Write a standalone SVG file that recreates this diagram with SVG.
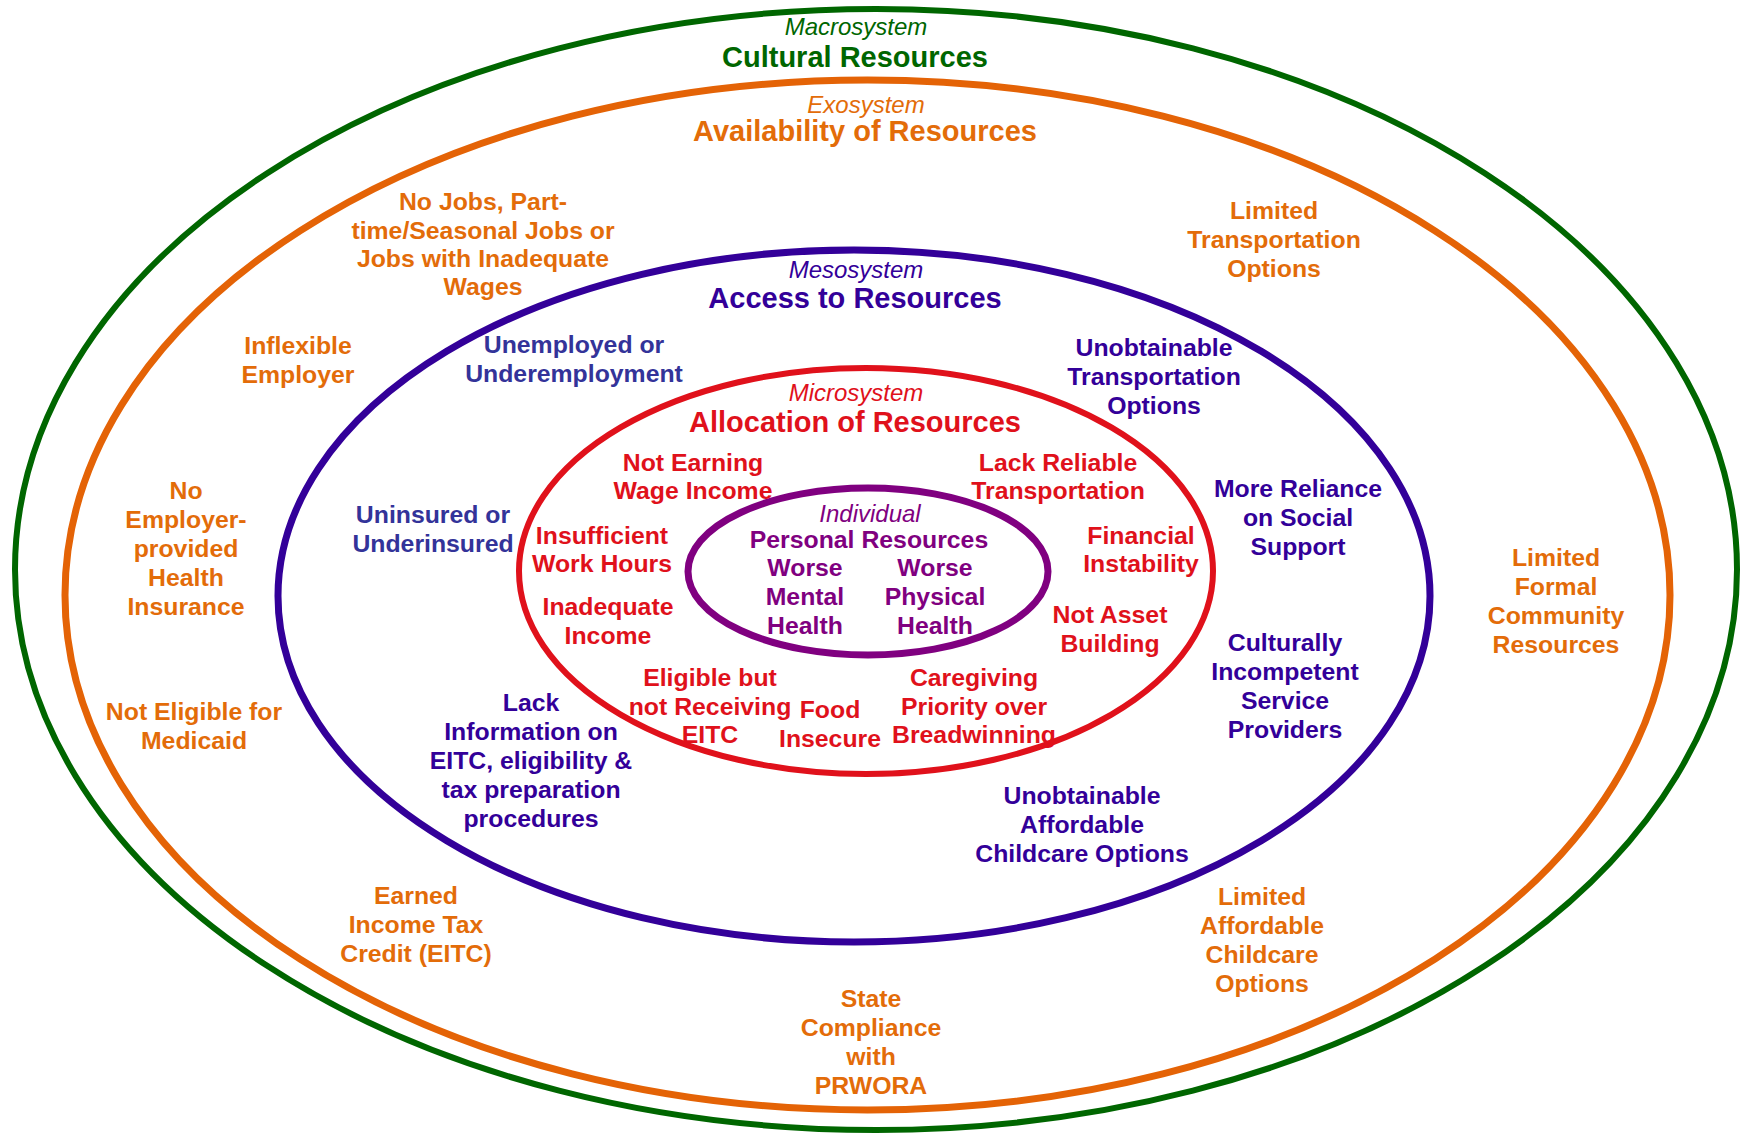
<svg xmlns="http://www.w3.org/2000/svg" width="1745" height="1135" viewBox="0 0 1745 1135">
<style>
text{font-family:"Liberation Sans",Arial,sans-serif;text-anchor:middle}
.b{font-weight:bold;font-size:24.8px}
.h{font-weight:bold;font-size:29px}
.i{font-style:italic;font-size:24px}
.ring{fill:none}
.g{fill:#006600}.gs{stroke:#006600;stroke-width:6}
.o{fill:#E36C09}.os{stroke:#E46306;stroke-width:7}
.u{fill:#330099}.us{stroke:#330099;stroke-width:7}
.u2{fill:#333399}
.r{fill:#E0111B}.rs{stroke:#E0111B;stroke-width:6}
.p{fill:#800080}.ps{stroke:#800080;stroke-width:7}
</style>
<rect width="1745" height="1135" fill="#ffffff"/>
<g transform="translate(0,2)">
<g id="macrosystem">
<ellipse class="ring gs" cx="876" cy="567.5" rx="861" ry="560.5"/>
<text class="i g" x="856" y="33">Macrosystem</text>
<text class="h g" x="855" y="65">Cultural Resources</text>
</g>
<g id="exosystem">
<ellipse class="ring os" cx="867.5" cy="593" rx="802.5" ry="515"/>
<text class="i o" x="866" y="111">Exosystem</text>
<text class="h o" x="865" y="139">Availability of Resources</text>
</g>
<g id="mesosystem">
<ellipse class="ring us" cx="854" cy="594" rx="576" ry="346"/>
<text class="i u" x="856" y="276">Mesosystem</text>
<text class="h u" x="855" y="306">Access to Resources</text>
</g>
<g id="microsystem">
<ellipse class="ring rs" cx="866" cy="569" rx="347" ry="203"/>
<text class="i r" x="856" y="399">Microsystem</text>
<text class="h r" x="855" y="430">Allocation of Resources</text>
</g>
<g id="individual">
<ellipse class="ring ps" cx="868" cy="569.5" rx="180" ry="83.5"/>
<text class="i p" x="870" y="520">Individual</text>
<text class="b p" x="869" y="546">Personal Resources</text>
</g>
<g id="worse-mental-health"><text class="b p"><tspan x="805" y="574">Worse</tspan><tspan x="805" y="603">Mental</tspan><tspan x="805" y="632">Health</tspan></text></g>
<g id="worse-physical-health"><text class="b p"><tspan x="935" y="574">Worse</tspan><tspan x="935" y="603">Physical</tspan><tspan x="935" y="632">Health</tspan></text></g>

<g id="no-jobs"><text class="b o"><tspan x="483" y="208">No Jobs, Part-</tspan><tspan x="483" y="237">time/Seasonal Jobs or</tspan><tspan x="483" y="265">Jobs with Inadequate</tspan><tspan x="483" y="293">Wages</tspan></text></g>
<g id="limited-transportation"><text class="b o"><tspan x="1274" y="217">Limited</tspan><tspan x="1274" y="246">Transportation</tspan><tspan x="1274" y="275">Options</tspan></text></g>
<g id="inflexible-employer"><text class="b o"><tspan x="298" y="352">Inflexible</tspan><tspan x="298" y="381">Employer</tspan></text></g>
<g id="no-employer-insurance"><text class="b o"><tspan x="186" y="497">No</tspan><tspan x="186" y="526">Employer-</tspan><tspan x="186" y="555">provided</tspan><tspan x="186" y="584">Health</tspan><tspan x="186" y="613">Insurance</tspan></text></g>
<g id="not-eligible-medicaid"><text class="b o"><tspan x="194" y="718">Not Eligible for</tspan><tspan x="194" y="747">Medicaid</tspan></text></g>
<g id="limited-formal-community"><text class="b o"><tspan x="1556" y="564">Limited</tspan><tspan x="1556" y="593">Formal</tspan><tspan x="1556" y="622">Community</tspan><tspan x="1556" y="651">Resources</tspan></text></g>
<g id="eitc"><text class="b o"><tspan x="416" y="902">Earned</tspan><tspan x="416" y="931">Income Tax</tspan><tspan x="416" y="960">Credit (EITC)</tspan></text></g>
<g id="limited-affordable-childcare"><text class="b o"><tspan x="1262" y="903">Limited</tspan><tspan x="1262" y="932">Affordable</tspan><tspan x="1262" y="961">Childcare</tspan><tspan x="1262" y="990">Options</tspan></text></g>
<g id="state-compliance"><text class="b o"><tspan x="871" y="1005">State</tspan><tspan x="871" y="1034">Compliance</tspan><tspan x="871" y="1063">with</tspan><tspan x="871" y="1092">PRWORA</tspan></text></g>

<g id="unemployed"><text class="b u2"><tspan x="574" y="351">Unemployed or</tspan><tspan x="574" y="380">Underemployment</tspan></text></g>
<g id="unobtainable-transportation"><text class="b u"><tspan x="1154" y="354">Unobtainable</tspan><tspan x="1154" y="383">Transportation</tspan><tspan x="1154" y="412">Options</tspan></text></g>
<g id="more-reliance"><text class="b u"><tspan x="1298" y="495">More Reliance</tspan><tspan x="1298" y="524">on Social</tspan><tspan x="1298" y="553">Support</tspan></text></g>
<g id="uninsured"><text class="b u2"><tspan x="433" y="521">Uninsured or</tspan><tspan x="433" y="550">Underinsured</tspan></text></g>
<g id="lack-information"><text class="b u"><tspan x="531" y="709">Lack</tspan><tspan x="531" y="738">Information on</tspan><tspan x="531" y="767">EITC, eligibility &amp;</tspan><tspan x="531" y="796">tax preparation</tspan><tspan x="531" y="825">procedures</tspan></text></g>
<g id="culturally-incompetent"><text class="b u"><tspan x="1285" y="649">Culturally</tspan><tspan x="1285" y="678">Incompetent</tspan><tspan x="1285" y="707">Service</tspan><tspan x="1285" y="736">Providers</tspan></text></g>
<g id="unobtainable-childcare"><text class="b u"><tspan x="1082" y="802">Unobtainable</tspan><tspan x="1082" y="831">Affordable</tspan><tspan x="1082" y="860">Childcare Options</tspan></text></g>

<g id="not-earning"><text class="b r"><tspan x="693" y="469">Not Earning</tspan><tspan x="693" y="497">Wage Income</tspan></text></g>
<g id="lack-reliable-transportation"><text class="b r"><tspan x="1058" y="469">Lack Reliable</tspan><tspan x="1058" y="497">Transportation</tspan></text></g>
<g id="insufficient-hours"><text class="b r"><tspan x="602" y="542">Insufficient</tspan><tspan x="602" y="570">Work Hours</tspan></text></g>
<g id="financial-instability"><text class="b r"><tspan x="1141" y="542">Financial</tspan><tspan x="1141" y="570">Instability</tspan></text></g>
<g id="inadequate-income"><text class="b r"><tspan x="608" y="613">Inadequate</tspan><tspan x="608" y="642">Income</tspan></text></g>
<g id="not-asset-building"><text class="b r"><tspan x="1110" y="621">Not Asset</tspan><tspan x="1110" y="650">Building</tspan></text></g>
<g id="eligible-not-receiving"><text class="b r"><tspan x="710" y="684">Eligible but</tspan><tspan x="710" y="713">not Receiving</tspan><tspan x="710" y="741">EITC</tspan></text></g>
<g id="food-insecure"><text class="b r"><tspan x="830" y="716">Food</tspan><tspan x="830" y="745">Insecure</tspan></text></g>
<g id="caregiving"><text class="b r"><tspan x="974" y="684">Caregiving</tspan><tspan x="974" y="713">Priority over</tspan><tspan x="974" y="741">Breadwinning</tspan></text></g>
</g>
</svg>
